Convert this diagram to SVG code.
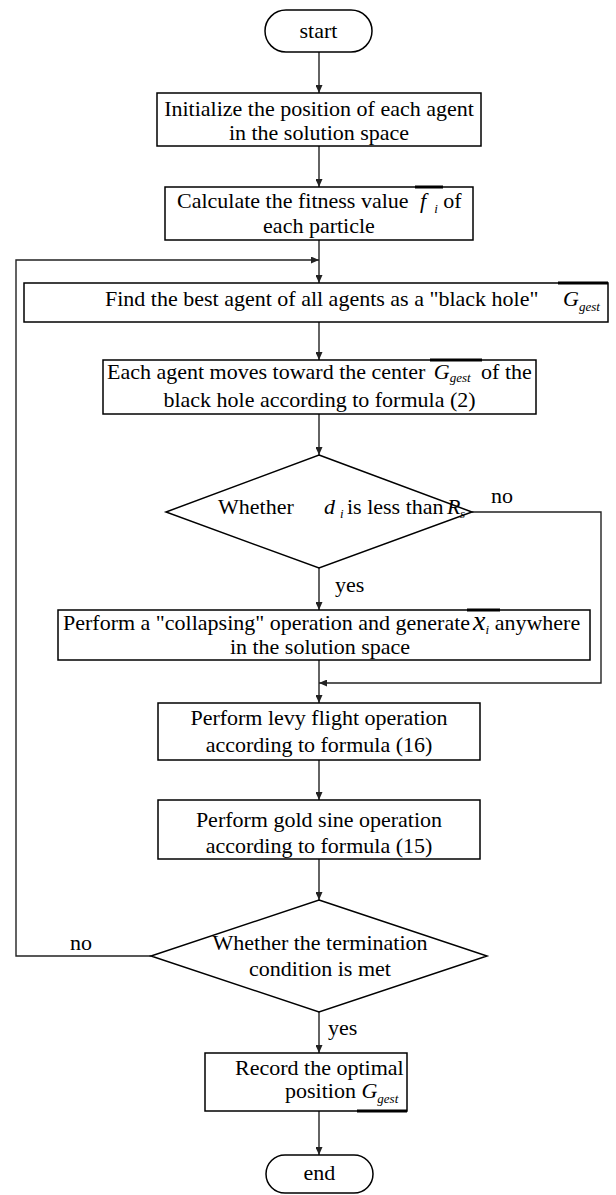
<svg xmlns="http://www.w3.org/2000/svg" width="616" height="1195" viewBox="0 0 616 1195">
<style>
text{font-family:"Liberation Serif","Times New Roman",serif;font-size:22px;fill:#000}
.c{text-anchor:middle}
.m{font-style:italic}
.sub{font-style:italic;font-size:13px}
.box{fill:#fff;stroke:#000;stroke-width:1.5}
.ln{fill:none;stroke:#222;stroke-width:1.4}
.bar{stroke:#000;stroke-width:3}
</style>
<defs>
<marker id="ah" markerWidth="8" markerHeight="7" refX="8" refY="3.5" orient="auto" markerUnits="userSpaceOnUse">
<path d="M0,0 L8,3.5 L0,7 z" fill="#222"/>
</marker>
</defs>
<g id="connectors">
<line class="ln" x1="319" y1="52" x2="319" y2="93" marker-end="url(#ah)"/>
<line class="ln" x1="319" y1="146" x2="319" y2="187" marker-end="url(#ah)"/>
<line class="ln" x1="319" y1="240" x2="319" y2="283" marker-end="url(#ah)"/>
<line class="ln" x1="319" y1="322" x2="319" y2="360" marker-end="url(#ah)"/>
<line class="ln" x1="319" y1="414" x2="319" y2="455" marker-end="url(#ah)"/>
<line class="ln" x1="319" y1="568" x2="319" y2="610" marker-end="url(#ah)"/>
<line class="ln" x1="319" y1="660" x2="319" y2="703" marker-end="url(#ah)"/>
<line class="ln" x1="319" y1="760" x2="319" y2="800" marker-end="url(#ah)"/>
<line class="ln" x1="319" y1="859" x2="319" y2="900" marker-end="url(#ah)"/>
<line class="ln" x1="319" y1="1012" x2="319" y2="1053" marker-end="url(#ah)"/>
<line class="ln" x1="319" y1="1111" x2="319" y2="1155" marker-end="url(#ah)"/>
<polyline class="ln" points="472,512 601,512 601,683 319,683" marker-end="url(#ah)"/>
<polyline class="ln" points="151,956 16,956 16,260 319,260" marker-end="url(#ah)"/>
<text x="491" y="503">no</text>
<text x="335" y="592">yes</text>
<text x="70" y="950">no</text>
<text x="328" y="1035">yes</text>
</g>
<g id="start">
<rect class="box" x="265" y="10" width="107" height="42" rx="21"/>
<text class="c" x="318.5" y="38">start</text>
</g>
<g id="init">
<rect class="box" x="157" y="93" width="324" height="53"/>
<text class="c" x="319" y="116">Initialize the position of each agent</text>
<text class="c" x="319" y="140">in the solution space</text>
</g>
<g id="fitness">
<rect class="box" x="165" y="187" width="308" height="53"/>
<line class="bar" x1="415" y1="187" x2="443" y2="187"/>
<text x="177" y="208">Calculate the fitness value <tspan class="m" dx="6">f</tspan><tspan class="sub" dx="8" dy="5">i</tspan><tspan dy="-5"> of</tspan></text>
<text class="c" x="319" y="233">each particle</text>
</g>
<g id="blackhole">
<rect class="box" x="24" y="283" width="584" height="39"/>
<line class="bar" x1="558" y1="283" x2="608" y2="283"/>
<text x="105" y="306">Find the best agent of all agents as a "black hole"</text>
<text class="m" x="563" y="306">G<tspan class="sub" dy="5">gest</tspan></text>
</g>
<g id="move">
<rect class="box" x="103" y="360" width="433" height="54"/>
<line class="bar" x1="430" y1="360" x2="482" y2="360"/>
<text x="107" y="379">Each agent moves toward the center <tspan class="m" dx="3">G</tspan><tspan class="sub" dy="3">gest</tspan><tspan dy="-3" dx="5"> of the</tspan></text>
<text class="c" x="319.5" y="407">black hole according to formula (2)</text>
</g>
<g id="decision1">
<polygon class="box" points="319,455 472,512 319,568 166,512"/>
<text x="218" y="514">Whether</text>
<text class="m" x="324" y="514" font-size="28">d</text>
<text class="sub" x="340" y="518">i</text>
<text x="347" y="514">is less than</text>
<text class="m" x="447" y="514">R</text>
<text class="sub" x="460" y="518">s</text>
</g>
<g id="collapse">
<rect class="box" x="58" y="610" width="532" height="50"/>
<line class="bar" x1="467" y1="610" x2="500" y2="610"/>
<text x="63" y="630">Perform a "collapsing" operation and generate<tspan class="m" font-size="28" dx="3">x</tspan><tspan class="sub" dy="4">i</tspan><tspan dy="-4"> anywhere</tspan></text>
<text class="c" x="320" y="654">in the solution space</text>
</g>
<g id="levy">
<rect class="box" x="158" y="703" width="322" height="57"/>
<text class="c" x="319" y="725">Perform levy flight operation</text>
<text class="c" x="319" y="752">according to formula (16)</text>
</g>
<g id="goldsine">
<rect class="box" x="158" y="800" width="322" height="59"/>
<text class="c" x="319" y="827">Perform gold sine operation</text>
<text class="c" x="319" y="853">according to formula (15)</text>
</g>
<g id="decision2">
<polygon class="box" points="319,900 487,956 319,1012 151,956"/>
<text class="c" x="320" y="950">Whether the termination</text>
<text class="c" x="320" y="976">condition is met</text>
</g>
<g id="record">
<rect class="box" x="205" y="1053" width="202" height="58"/>
<line class="bar" x1="357" y1="1111" x2="407" y2="1111"/>
<text x="235" y="1075">Record the optimal</text>
<text x="285" y="1098">position <tspan class="m">G</tspan><tspan class="sub" dy="5">gest</tspan></text>
</g>
<g id="end">
<rect class="box" x="266" y="1155" width="107" height="38" rx="19"/>
<text class="c" x="319.5" y="1180">end</text>
</g>
</svg>
